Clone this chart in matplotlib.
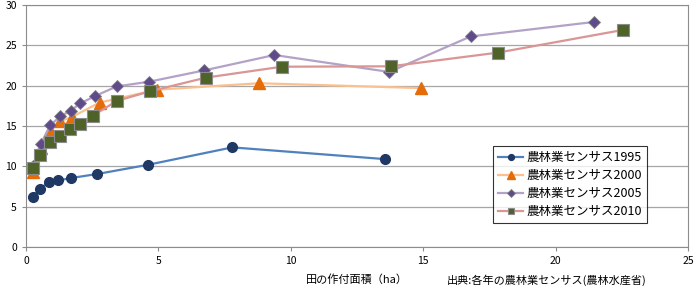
import matplotlib
matplotlib.use('Agg')
import matplotlib.pyplot as plt

plt.rcParams['font.family'] = ['Noto Sans CJK JP', 'DejaVu Sans']

# data
x1995 = [0.26, 0.51, 0.86, 1.22, 1.70, 2.69, 4.62, 7.79, 13.54]
y1995 = [6.2, 7.2, 8.0, 8.25, 8.55, 9.05, 10.2, 12.35, 10.9]

x2000 = [0.28, 0.55, 0.92, 1.29, 1.72, 2.78, 4.94, 8.80, 14.92]
y2000 = [9.3, 12.3, 14.5, 15.6, 16.1, 17.9, 19.5, 20.3, 19.7]

x2005 = [0.28, 0.56, 0.92, 1.29, 1.69, 2.05, 2.60, 3.42, 4.66, 6.74, 9.38, 13.72, 16.79, 21.46]
y2005 = [10.0, 12.8, 15.1, 16.2, 16.9, 17.8, 18.7, 19.9, 20.5, 21.9, 23.8, 21.7, 26.1, 27.9]

x2010 = [0.28, 0.53, 0.92, 1.29, 1.65, 2.04, 2.54, 3.42, 4.68, 6.80, 9.66, 13.78, 17.83, 22.53]
y2010 = [9.85, 11.4, 13.0, 13.75, 14.6, 15.3, 16.3, 18.1, 19.3, 21.0, 22.35, 22.4, 24.1, 26.9]

labels = ['農林業センサス1995', '農林業センサス2000', '農林業センサス2005', '農林業センサス2010']

fig = plt.figure(figsize=(6.96, 2.86), dpi=100)
ax = fig.add_axes([26 / 696, 39 / 286, 662 / 696, 242 / 286])

ax.plot(x1995, y1995, color='#4F81BD', lw=1.6, marker='o', ms=7,
        mfc='#1F3864', mec='#1F3864', label=labels[0])
ax.plot(x2000, y2000, color='#FAC090', lw=1.6, marker='^', ms=9,
        mfc='#E46C0A', mec='#E46C0A', label=labels[1])
ax.plot(x2005, y2005, color='#B3A2C7', lw=1.6, marker='D', ms=6.5,
        mfc='#5F4A8B', mec='#7F7F7F', mew=0.6, label=labels[2])
ax.plot(x2010, y2010, color='#D99694', lw=1.6, marker='s', ms=8,
        mfc='#4F6228', mec='#8C8C8C', mew=0.8, label=labels[3])

ax.set_xlim(0, 25)
ax.set_ylim(0, 30)
ax.set_xticks(range(0, 26, 5))
ax.set_yticks(range(0, 31, 5))
ax.yaxis.grid(True, color='#A6A6A6', lw=0.9)
ax.set_axisbelow(True)
for s in ax.spines.values():
    s.set_color('#8C8C8C')
ax.tick_params(labelsize=7.5, length=3, color='#8C8C8C')

ax.set_xlabel('田の作付面積（ha）', fontsize=8, labelpad=6)

leg = ax.legend(loc='lower right', bbox_to_anchor=(0.948, 0.072), fontsize=9,
                frameon=True, fancybox=False, edgecolor='black',
                handlelength=2.0, borderpad=0.4, labelspacing=0.4,
                handletextpad=0.3, markerscale=0.6)
leg.get_frame().set_linewidth(0.8)

fig.text(447 / 696, 0.5 / 286, '出典:各年の農林業センサス(農林水産省)', fontsize=8,
         va='bottom', ha='left')

fig.savefig('out.png', dpi=100)
